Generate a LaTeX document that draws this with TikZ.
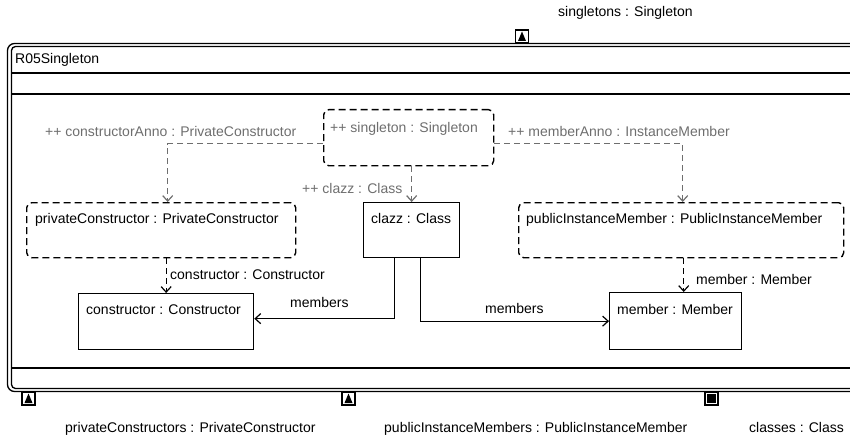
\documentclass[tikz,border=0pt]{standalone}
\usepackage{fontspec}
\setmainfont{Liberation Sans}
\usetikzlibrary{arrows.meta,calc}

\definecolor{annogray}{HTML}{6E6E6E}

\tikzset{
  frameline/.style={line width=1.3pt, black},
  objbox/.style={draw, line width=1.3pt, inner sep=0pt, anchor=north west},
  rolebox/.style={objbox, line width=1.4pt, dash pattern=on 7pt off 4pt, rounded corners=5pt},
  txt/.style={inner sep=0pt, anchor=base west},
  anno/.style={txt, text=annogray},
  vtip/.style={-{Straight Barb[length=5.5pt,width=10pt,line width=1.2pt]}},
  annoedge/.style={draw=annogray, line width=1.2pt, dash pattern=on 6pt off 4pt, vtip},
  refedge/.style={draw=black, line width=1.3pt, dash pattern=on 6pt off 4pt, vtip},
  linkedge/.style={draw=black, line width=1.3pt, vtip},
  port/.style={draw, line width=1.2pt, fill=white, inner sep=0pt, minimum width=13pt, minimum height=13pt}
}

\begin{document}
\begin{tikzpicture}[x=1pt, y=-1pt, font=\fontsize{14}{16}\selectfont]
\useasboundingbox (0,0) rectangle (850,441);

% container frame (double border, runs off to the right)
\begin{scope}
  \clip (0,0) rectangle (850,441);
  \draw[frameline, rounded corners=7pt] (7.5,43.5) rectangle (880,391.5);
  \draw[frameline, rounded corners=4pt] (11.5,46.5) rectangle (876,388.5);
  \draw[frameline] (11.5,73) -- (876,73);
  \draw[frameline] (11.5,94) -- (876,94);
  \draw[frameline] (11.5,368) -- (876,368);
\end{scope}
\node[txt] (title) at (15,64) {R05Singleton};

% ports on the frame
\node[port] (pTop) at (522,36.5) {};
\fill ($(pTop.center)+(-4,4.5)$) -- ($(pTop.center)+(4,4.5)$) -- ($(pTop.center)+(0,-5)$) -- cycle;
\node[port] (pPriv) at (28.5,398.5) {};
\fill ($(pPriv.center)+(-4,4.5)$) -- ($(pPriv.center)+(4,4.5)$) -- ($(pPriv.center)+(0,-5)$) -- cycle;
\node[port] (pPub) at (348.5,398.5) {};
\fill ($(pPub.center)+(-4,4.5)$) -- ($(pPub.center)+(4,4.5)$) -- ($(pPub.center)+(0,-5)$) -- cycle;
\node[port] (pCls) at (711.5,398.5) {};
\fill ($(pCls.center)+(-4.5,-4.5)$) rectangle ($(pCls.center)+(4.5,4.5)$);

\node[txt] (lTop) at (558,17) {singletons : Singleton};
\node[txt] (lPriv) at (65,432) {privateConstructors : PrivateConstructor};
\node[txt] (lPub) at (384,432) {publicInstanceMembers : PublicInstanceMember};
\node[txt] (lCls) at (749,432) {classes : Class};

% objects
\node[rolebox, minimum width=170pt, minimum height=56pt] (singleton) at (323,109) {};
\node[anno] (tSingleton) at (330,132) {++ singleton : Singleton};

\node[rolebox, minimum width=269pt, minimum height=55pt] (pc) at (26,202) {};
\node[txt] (tPc) at (35,223) {privateConstructor : PrivateConstructor};

\node[objbox, minimum width=96pt, minimum height=55pt] (clazz) at (363,202) {};
\node[txt] (tClazz) at (371,223) {clazz : Class};

\node[rolebox, minimum width=325pt, minimum height=55pt] (pim) at (518,202) {};
\node[txt] (tPim) at (526,223) {publicInstanceMember : PublicInstanceMember};

\node[objbox, minimum width=175pt, minimum height=56pt] (constructor) at (78,293) {};
\node[txt] (tConstructor) at (86,314) {constructor : Constructor};

\node[objbox, minimum width=132pt, minimum height=57pt] (member) at (609,292) {};
\node[txt] (tMember) at (617,314) {member : Member};

% role bindings from the singleton
\draw[annoedge] ([yshift=-6pt]singleton.west) -| ([xshift=6.5pt]pc.north);
\node[anno] (lConsAnno) at (45,136) {++ constructorAnno : PrivateConstructor};
\draw[annoedge] ([yshift=-6pt]singleton.east) -| ([xshift=1.5pt]pim.north);
\node[anno] (lMemAnno) at (508,136) {++ memberAnno : InstanceMember};
\draw[annoedge] (clazz.north |- singleton.south) -- (clazz.north);
\node[anno] (lClazz) at (302,193) {++ clazz : Class};

% role player references
\draw[refedge] (pc.south -| constructor.north) -- (constructor.north);
\node[txt] (lCons) at (170,279) {constructor : Constructor};
\draw[refedge] ([xshift=2.5pt]pim.south) -- ([xshift=2.5pt]pim.south |- member.north);
\node[txt] (lMem) at (696,284) {member : Member};

% members links
\draw[linkedge] ([xshift=-17pt]clazz.south) |- ([yshift=3pt]constructor.east);
\node[txt] (lMembersL) at (290,307) {members};
\draw[linkedge] ([xshift=9pt]clazz.south) |- (member.west);
\node[txt] (lMembersR) at (485,313) {members};
\end{tikzpicture}
\end{document}
